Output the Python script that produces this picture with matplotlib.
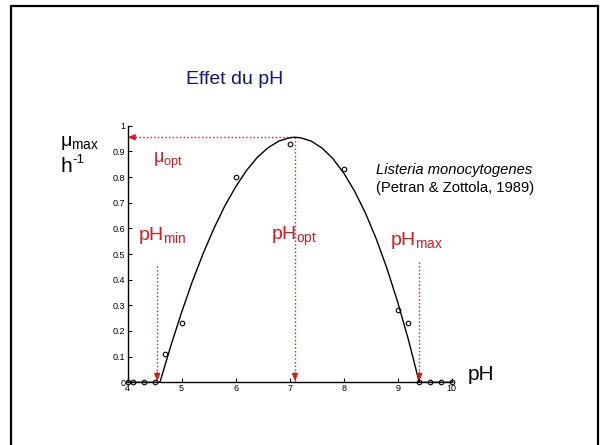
import matplotlib
matplotlib.use("Agg")
import matplotlib.pyplot as plt
from matplotlib.patches import Rectangle

plt.rcParams['font.family'] = ['Liberation Sans', 'DejaVu Sans']
plt.rcParams['mathtext.fontset'] = 'custom'
plt.rcParams['mathtext.rm'] = 'Liberation Sans'
plt.rcParams['mathtext.it'] = 'Liberation Sans:italic'
plt.rcParams['mathtext.bf'] = 'Liberation Sans:bold'

# observed data (circles)
ph_obs = [4.0, 4.1, 4.3, 4.5, 4.7, 5.0, 6.0, 7.0, 8.0, 9.0, 9.2, 9.4, 9.6, 9.8, 10.0]
mu_obs = [0, 0, 0, 0, 0.11, 0.23, 0.80, 0.93, 0.83, 0.283, 0.231, 0, 0, 0, 0]

# fitted curve
ph_fit = [4.0, 4.6, 4.8, 5.0, 5.2, 5.4, 5.6, 5.8, 6.0, 6.2, 6.4, 6.6, 6.8, 7.0, 7.1,
          7.2, 7.4, 7.6, 7.8, 8.0, 8.2, 8.4, 8.6, 8.8, 9.0, 9.2, 9.4, 10.0]
mu_fit = [0, 0, 0.141, 0.272, 0.393, 0.502, 0.600, 0.687, 0.761, 0.825, 0.876, 0.914,
          0.940, 0.953, 0.955, 0.953, 0.940, 0.913, 0.872, 0.816, 0.746, 0.661, 0.561,
          0.445, 0.313, 0.165, 0, 0]

# cardinal values
ph_min, ph_opt, ph_max, mu_opt = 4.55, 7.1, 9.4, 0.955
arrow_top_min, arrow_top_max = 0.453, 0.47

x_ticks = [4, 5, 6, 7, 8, 9, 10]
y_ticks = [0, 0.1, 0.2, 0.3, 0.4, 0.5, 0.6, 0.7, 0.8, 0.9, 1]
y_ticklabels = ['0', '0.1', '0.2', '0.3', '0.4', '0.5', '0.6', '0.7', '0.8', '0.9', '1']

RED = '#d41a1f'
NAVY = '#141482'

W, H = 600, 445
fig = plt.figure(figsize=(6, 4.45), dpi=100)
ax = fig.add_axes([127.5 / W, (H - 382.3) / H, (451.7 - 127.5) / W, (382.3 - 125.7) / H])

ax.plot(ph_fit, mu_fit, color='black', lw=1.0, clip_on=False, zorder=3)
ax.plot(ph_obs, mu_obs, 'o', mfc='none', mec='black', ms=3.3, mew=0.8, clip_on=False, zorder=4)

# red dotted guides
ax.plot([ph_opt, 4.0], [mu_opt, mu_opt], ':', color=RED, lw=1.0, clip_on=False, zorder=2)
ax.plot([ph_opt, ph_opt], [mu_opt, 0], ':', color=RED, lw=1.0, clip_on=False, zorder=2)
ax.plot([ph_min, ph_min], [arrow_top_min, 0], ':', color=RED, lw=1.0, zorder=2)
ax.plot([ph_max, ph_max], [arrow_top_max, 0], ':', color=RED, lw=1.0, zorder=2)

hp = dict(arrowstyle='-|>,head_width=0.18,head_length=0.45', color=RED, lw=0.8,
          shrinkA=0, shrinkB=0)
ax.annotate('', xy=(4.0, mu_opt), xytext=(4.12, mu_opt), arrowprops=hp, annotation_clip=False)
for xv in (ph_min, ph_opt, ph_max):
    ax.annotate('', xy=(xv, 0.004), xytext=(xv, 0.04), arrowprops=hp, annotation_clip=False)

ax.set_xlim(4, 10)
ax.set_ylim(0, 1)
ax.set_xticks(x_ticks)
ax.set_xticklabels([str(t) for t in x_ticks])
ax.set_yticks(y_ticks)
ax.set_yticklabels(y_ticklabels)
ax.tick_params(direction='in', length=3, width=0.8, labelsize=6.5, pad=1.5,
               colors='black')
for s in ('top', 'right'):
    ax.spines[s].set_visible(False)
for s in ('left', 'bottom'):
    ax.spines[s].set_linewidth(1.0)

# red labels
ax.text(4.47, 0.862, r'μ$_{\mathrm{opt}}$', color=RED, fontsize=13, va='center', ha='left')
ax.text(4.19, 0.574, r'pH$_{\mathrm{min}}$', color=RED, fontsize=14, va='center', ha='left')
ax.text(6.66, 0.570, r'pH$_{\mathrm{opt}}$', color=RED, fontsize=14, va='center', ha='left')
ax.text(8.86, 0.551, r'pH$_{\mathrm{max}}$', color=RED, fontsize=14, va='center', ha='left')

# figure texts
fig.text(235 / W, (H - 80) / H, 'Effet du pH', color=NAVY, fontsize=14, ha='center', va='center')
fig.text(60 / W, (H - 143) / H, r'μ$_{\mathrm{max}}$', fontsize=14, ha='left', va='center')
fig.text(60 / W, (H - 167) / H, 'h', fontsize=15, ha='left', va='center')
fig.text(72.5 / W, (H - 160) / H, '-1', fontsize=9.5, ha='left', va='center')
fig.text(468 / W, (H - 375) / H, 'pH', fontsize=15, ha='left', va='center')
fig.text(376 / W, (H - 170) / H, 'Listeria monocytogenes', fontsize=10.6, style='italic',
         ha='left', va='center')
fig.text(376 / W, (H - 188) / H, '(Petran & Zottola, 1989)', fontsize=10.6,
         ha='left', va='center')

# slide frame
fig.patches.append(Rectangle((11 / W, -0.05), (598 - 11) / W, (H - 6) / H + 0.05,
                             transform=fig.transFigure, fill=False, lw=1.6,
                             edgecolor='black', zorder=10))

fig.savefig('out.png', dpi=100)
